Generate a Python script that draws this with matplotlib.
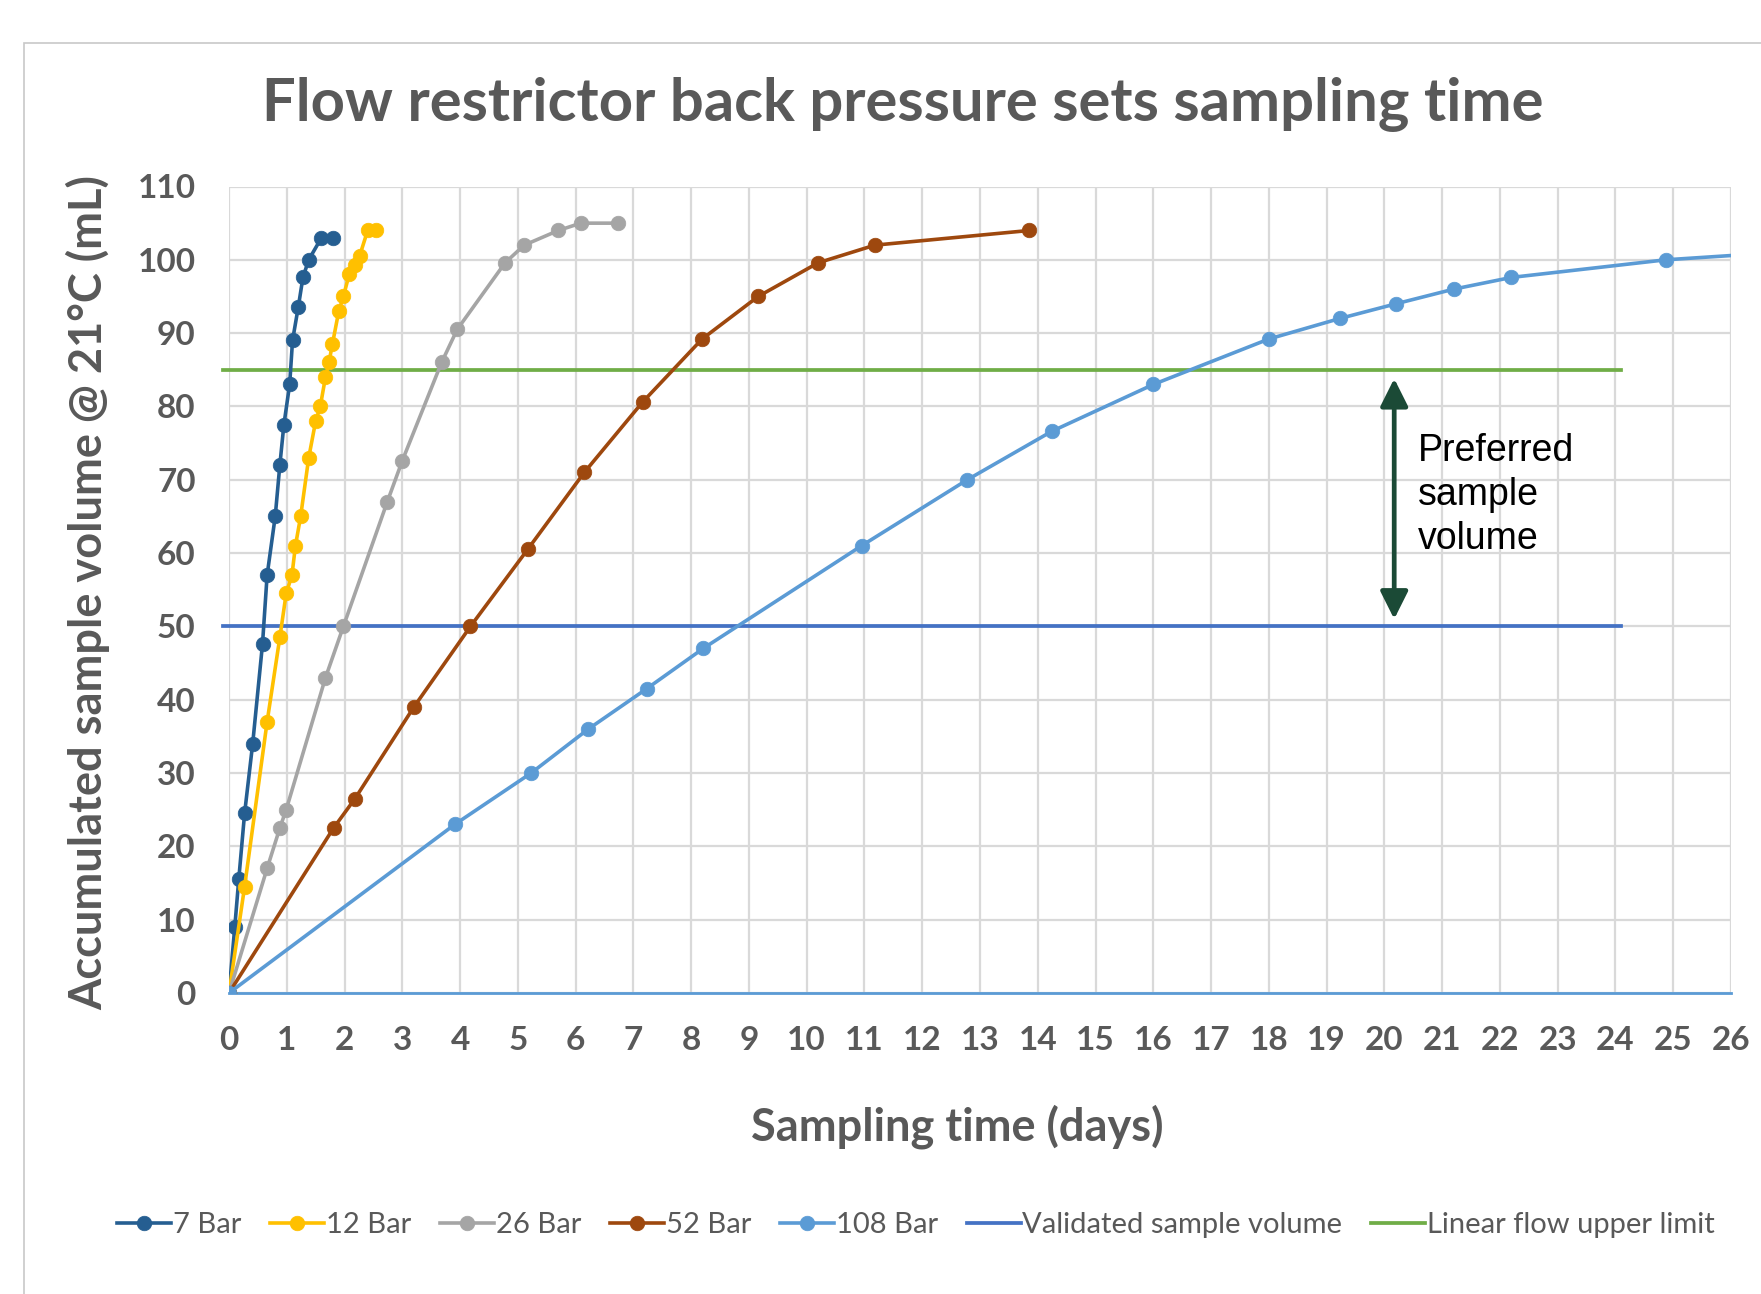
import matplotlib
matplotlib.use('Agg')
import matplotlib.pyplot as plt
from matplotlib.patches import Rectangle

# data (days, mL)
bar7_x = [0, 0.10, 0.17, 0.27, 0.41, 0.58, 0.66, 0.80, 0.88, 0.95, 1.05, 1.10, 1.20, 1.28, 1.38, 1.60, 1.80]
bar7_y = [0, 9, 15.6, 24.5, 34, 47.6, 57, 65, 72, 77.5, 83, 89, 93.6, 97.6, 100, 103, 103]

bar12_x = [0, 0.27, 0.66, 0.88, 0.99, 1.09, 1.15, 1.24, 1.38, 1.50, 1.58, 1.67, 1.73, 1.79, 1.90, 1.98,
           2.08, 2.18, 2.26, 2.40, 2.55]
bar12_y = [0, 14.5, 37, 48.5, 54.5, 57, 61, 65, 73, 78, 80, 84, 86, 88.5, 93, 95, 98, 99.3, 100.5, 104, 104]

bar26_x = [0, 0.66, 0.88, 0.99, 1.67, 1.98, 2.74, 3.00, 3.68, 3.95, 4.78, 5.11, 5.70, 6.09, 6.73]
bar26_y = [0, 17, 22.5, 25, 43, 50, 67, 72.6, 86, 90.5, 99.6, 102, 104, 105, 105]

bar52_x = [0, 1.81, 2.18, 3.20, 4.18, 5.17, 6.15, 7.16, 8.19, 9.16, 10.2, 11.18, 13.85]
bar52_y = [0, 22.5, 26.5, 39, 50, 60.5, 71, 80.6, 89.2, 95, 99.6, 102, 104]

bar108_x = [0, 3.91, 5.23, 6.22, 7.23, 8.21, 10.95, 12.78, 14.24, 16.0, 18.0, 19.23, 20.2, 21.2, 22.2,
            24.87, 27.0]
bar108_y = [0, 23, 30, 36, 41.5, 47, 61, 70, 76.6, 83, 89.2, 92, 94, 96, 97.6, 100, 101.1]

limit_x = [-0.1, 24.1]
validated_y = [50, 50]
upper_y = [85, 85]

arrow_x = 20.17
arrow_y = [83.8, 51.0]

x_ticks = list(range(0, 27))
y_ticks = list(range(0, 111, 10))

series = [
    ('7 Bar', bar7_x, bar7_y, '#255E91'),
    ('12 Bar', bar12_x, bar12_y, '#FFC000'),
    ('26 Bar', bar26_x, bar26_y, '#A5A5A5'),
    ('52 Bar', bar52_x, bar52_y, '#9E480E'),
    ('108 Bar', bar108_x, bar108_y, '#5B9BD5'),
]

gray = '#595959'
font = 'Lato'

fig = plt.figure(figsize=(17.61, 12.94), dpi=100)
fig.patches.append(Rectangle((24 / 1761, -0.1), 2, 1 - 43 / 1294 + 0.1, transform=fig.transFigure,
                             fill=False, edgecolor='#C8C8C8', linewidth=1.2))

ax = fig.add_axes([229 / 1761, 1 - 993 / 1294, (1731 - 229) / 1761, (993 - 186.5) / 1294])

for name, xs, ys, col in series:
    ax.plot(xs, ys, color=col, lw=2.6, marker='o', ms=10.5, mec=col, mew=0.5, label=name, zorder=4)

ax.plot(limit_x, validated_y, color='#4472C4', lw=2.7, label='Validated sample volume', clip_on=False, zorder=3)
ax.plot(limit_x, upper_y, color='#70AD47', lw=2.7, label='Linear flow upper limit', clip_on=False, zorder=3)

ax.annotate('', xy=(arrow_x, arrow_y[0]), xytext=(arrow_x, arrow_y[1]),
            arrowprops=dict(arrowstyle='<|-|>', color='#1B4A36', lw=3.4, mutation_scale=42,
                            shrinkA=0, shrinkB=0), zorder=5)
ax.text(20.58, 76.4, 'Preferred\nsample\nvolume', fontsize=27, family='Liberation Sans',
        va='top', ha='left', linespacing=1.28, color='black')

ax.set_xlim(0, 26)
ax.set_ylim(0, 110)
ax.set_xticks(x_ticks)
ax.set_yticks(y_ticks)
ax.grid(True, color='#D9D9D9', lw=1.6, zorder=0)
ax.set_axisbelow(True)
for s in ['left', 'top', 'right']:
    ax.spines[s].set_visible(False)
ax.spines['bottom'].set_color('#5B9BD5')
ax.spines['bottom'].set_linewidth(2)
ax.tick_params(length=0, pad=24, labelsize=24, labelcolor=gray)
for lab in ax.get_xticklabels() + ax.get_yticklabels():
    lab.set_fontweight('bold')
    lab.set_family(font)

fig.text(903 / 1761, 1 - 104 / 1294, 'Flow restrictor back pressure sets sampling time', ha='center',
         va='center', fontsize=43, fontweight='bold', color=gray, family=font)
fig.text(957 / 1761, 1 - 1127 / 1294, 'Sampling time (days)', ha='center', va='center',
         fontsize=32.5, fontweight='bold', color=gray, family=font)
fig.text(88 / 1761, 1 - 593 / 1294, 'Accumulated sample volume @ 21\u00b0C (mL)', ha='center', va='center',
         rotation=90, fontsize=32.5, fontweight='bold', color=gray, family=font)

leg = fig.legend(loc='center', bbox_to_anchor=(916 / 1761, 1 - 1225 / 1294), ncol=7, frameon=False,
                 handlelength=1.85, handletextpad=0.05, columnspacing=1.0,
                 prop={'family': font, 'size': 21})
for t in leg.get_texts():
    t.set_color(gray)

fig.savefig('out.png', dpi=100)
